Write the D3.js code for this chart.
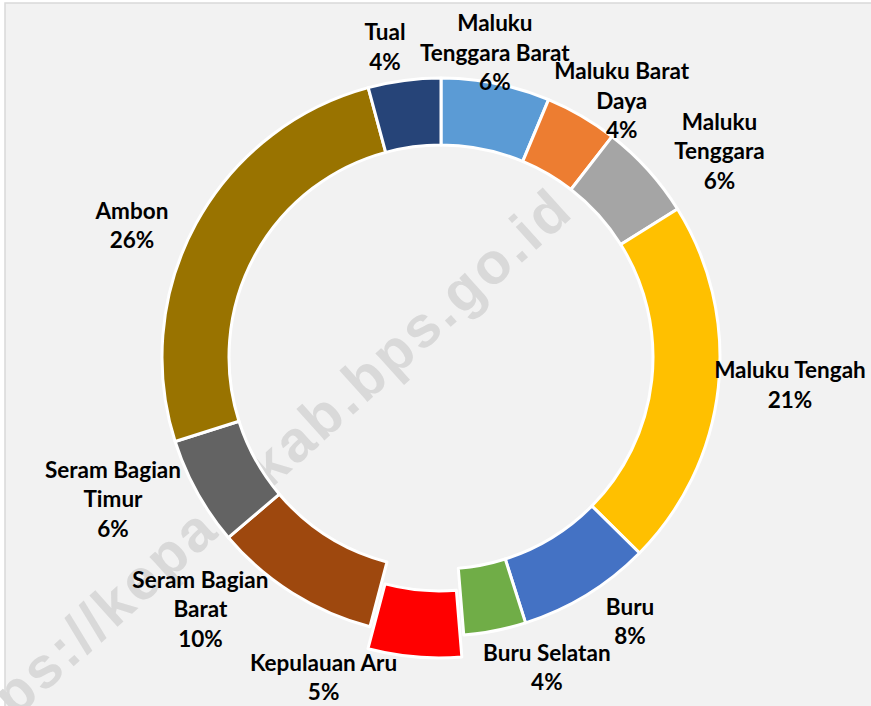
<!DOCTYPE html>
<html>
<head>
<meta charset="utf-8">
<script src="https://cdn.jsdelivr.net/npm/d3@7"></script>
<style>
  body { margin: 0; background: #fff; }
  svg { display: block; }
</style>
</head>
<body>
<svg width="871" height="706"></svg>
<script>
// Regions, clockwise from 12 o'clock
const regions = ["Maluku Tenggara Barat", "Maluku Barat Daya", "Maluku Tenggara", "Maluku Tengah",
  "Buru", "Buru Selatan", "Kepulauan Aru", "Seram Bagian Barat", "Seram Bagian Timur", "Ambon", "Tual"];
// share of each region (percent)
const shares = [6.3, 4.2, 5.6, 21.3, 7.7, 3.6, 5.4, 9.7, 6.3, 25.7, 4.2];
// how the region names wrap in the labels
const nameLines = [["Maluku", "Tenggara Barat"], ["Maluku Barat", "Daya"], ["Maluku", "Tenggara"],
  ["Maluku Tengah"], ["Buru"], ["Buru Selatan"], ["Kepulauan Aru"], ["Seram Bagian", "Barat"],
  ["Seram Bagian", "Timur"], ["Ambon"], ["Tual"]];
const colors = ["#5B9BD5", "#ED7D31", "#A5A5A5", "#FFC000", "#4472C4", "#70AD47",
  "#FF0000", "#9E480E", "#636363", "#997300", "#264478"];
const explodedRegion = "Kepulauan Aru";

// label shifts from the default spot (px), as the labels were dragged in the original
const labelShift = [[-12, 24], [12, 33], [30, 19], [16, -9], [14, -21], [41, -18],
  [-88, -13], [-62, -31], [-35, -20], [-15, 29], [-12, 22]];

var svg = d3.select("svg"),
  width = +svg.attr("width"),
  height = +svg.attr("height");

// chart area
svg.append("rect")
  .attr("x", 5).attr("y", 3)
  .attr("width", width + 20).attr("height", height + 20)
  .attr("fill", "#F2F2F2")
  .attr("stroke", "#D9D9D9")
  .attr("stroke-width", 1.5);

// watermark, sits behind the ring
svg.append("text")
  .attr("transform", "translate(576,214) rotate(-42)")
  .attr("text-anchor", "end")
  .style("font-family", "'Liberation Sans', Arial, sans-serif")
  .style("font-weight", "bold")
  .style("font-size", "58px")
  .style("letter-spacing", "3px")
  .attr("fill", "#D9D9D9")
  .text("https://keparukab.bps.go.id");

var cx = 441, cy = 357;
var outerR = 279, innerR = 212, labelR = 335, explode = 22;

var data = regions.map(function(d, i) {
  return { name: d, value: shares[i], color: colors[i], lines: nameLines[i], shift: labelShift[i] };
});
var total = d3.sum(shares);

var pie = d3.pie()
  .sort(null)
  .value(function(d) { return d.value; });

var arc = d3.arc()
  .innerRadius(innerR)
  .outerRadius(outerR);

var arcs = pie(data);

var g = svg.append("g")
  .attr("transform", "translate(" + cx + "," + cy + ")");

function midAngle(d) { return (d.startAngle + d.endAngle) / 2; }

g.selectAll("path")
  .data(arcs)
  .enter()
  .append("path")
    .attr("d", arc)
    .attr("fill", function(d) { return d.data.color; })
    .attr("stroke", "#fff")
    .attr("stroke-width", 3)
    .attr("stroke-linejoin", "round")
    .attr("transform", function(d) {
      if (d.data.name !== explodedRegion) return null;
      var a = midAngle(d);
      return "translate(" + (Math.sin(a) * explode) + "," + (-Math.cos(a) * explode) + ")";
    });

// data labels
var lineH = 29.5;
var labels = g.selectAll("text.lbl")
  .data(arcs)
  .enter()
  .append("text")
    .attr("class", "lbl")
    .attr("text-anchor", "middle")
    .style("font-family", "Lato, 'Open Sans', sans-serif")
    .style("font-weight", "bold")
    .style("font-size", "22.5px")
    .attr("fill", "#000");

labels.each(function(d) {
  var a = midAngle(d);
  var x = Math.sin(a) * labelR + d.data.shift[0];
  var y = -Math.cos(a) * labelR + d.data.shift[1];
  var lines = d.data.lines.concat([Math.round(d.data.value / total * 100) + "%"]);
  var n = lines.length;
  d3.select(this).selectAll("tspan")
    .data(lines)
    .enter()
    .append("tspan")
      .attr("x", x)
      .attr("y", function(t, i) { return y + (i - (n - 1) / 2) * lineH + 8; })
      .text(function(t) { return t; });
});
</script>
</body>
</html>
